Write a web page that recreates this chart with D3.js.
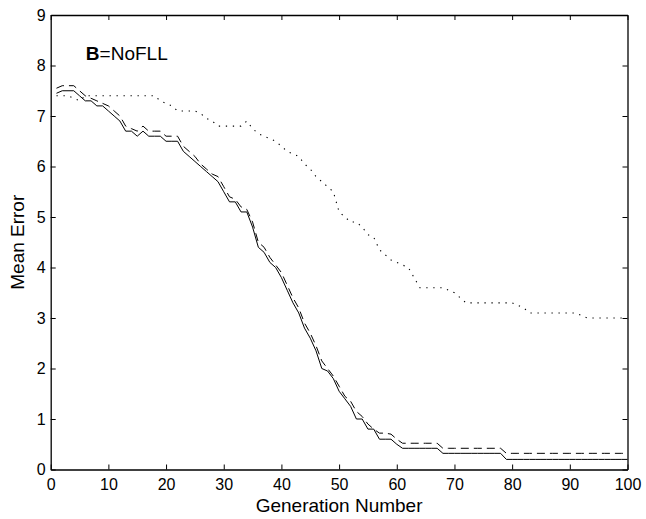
<!DOCTYPE html>
<html>
<head>
<meta charset="utf-8">
<script src="https://cdn.jsdelivr.net/npm/d3@7"></script>
<style>
  body { margin: 0; background: #fff; }
  svg { display: block; font-family: "Liberation Sans", Arial, Helvetica, sans-serif; }
</style>
</head>
<body>
<div id="wrapper"></div>
<script>
// generation 1..100
const generations = d3.range(1, 101);

const solidErr = [
  7.45, 7.5, 7.5, 7.5, 7.4, 7.3, 7.3, 7.2, 7.2, 7.1,
  7.0, 6.9, 6.7, 6.7, 6.6, 6.7, 6.6, 6.6, 6.6, 6.5,
  6.5, 6.5, 6.3, 6.2, 6.1, 6.0, 5.9, 5.8, 5.7, 5.5,
  5.3, 5.3, 5.1, 5.1, 4.8, 4.4, 4.3, 4.1, 4.0, 3.8,
  3.55, 3.3, 3.1, 2.8, 2.6, 2.35, 2.0, 1.95, 1.8, 1.55,
  1.4, 1.25, 1.0, 1.0, 0.8, 0.8, 0.6, 0.6, 0.6, 0.5,
  0.42, 0.42, 0.42, 0.42, 0.42, 0.42, 0.42, 0.32, 0.32, 0.32,
  0.32, 0.32, 0.32, 0.32, 0.32, 0.32, 0.32, 0.32, 0.2, 0.2,
  0.2, 0.2, 0.2, 0.2, 0.2, 0.2, 0.2, 0.2, 0.2, 0.2,
  0.2, 0.2, 0.2, 0.2, 0.2, 0.2, 0.2, 0.2, 0.2, 0.2
];

const dashedErr = [
  7.55, 7.6, 7.6, 7.6, 7.5, 7.4, 7.35, 7.3, 7.25, 7.2,
  7.1, 7.0, 6.8, 6.75, 6.7, 6.8, 6.7, 6.7, 6.7, 6.6,
  6.6, 6.6, 6.4, 6.3, 6.2, 6.05, 5.95, 5.85, 5.8, 5.6,
  5.4, 5.35, 5.2, 5.15, 4.9, 4.5, 4.4, 4.2, 4.05, 3.9,
  3.65, 3.4, 3.2, 2.9, 2.7, 2.45, 2.15, 2.0, 1.85, 1.65,
  1.45, 1.35, 1.15, 1.05, 0.9, 0.8, 0.72, 0.72, 0.7, 0.6,
  0.52, 0.52, 0.52, 0.52, 0.52, 0.52, 0.52, 0.42, 0.42, 0.42,
  0.42, 0.42, 0.42, 0.42, 0.42, 0.42, 0.42, 0.42, 0.32, 0.32,
  0.32, 0.32, 0.32, 0.32, 0.32, 0.32, 0.32, 0.32, 0.32, 0.32,
  0.32, 0.32, 0.32, 0.32, 0.32, 0.32, 0.32, 0.32, 0.32, 0.32
];

const dottedErr = [
  7.4, 7.4, 7.4, 7.35, 7.3, 7.4, 7.4, 7.4, 7.4, 7.4,
  7.4, 7.4, 7.4, 7.4, 7.4, 7.4, 7.4, 7.4, 7.3, 7.25,
  7.2, 7.1, 7.1, 7.1, 7.1, 7.05, 6.95, 6.9, 6.8, 6.8,
  6.8, 6.8, 6.8, 6.9, 6.75, 6.65, 6.6, 6.55, 6.5, 6.4,
  6.3, 6.25, 6.2, 6.05, 5.95, 5.8, 5.7, 5.6, 5.5, 5.1,
  5.0, 4.9, 4.9, 4.8, 4.65, 4.6, 4.35, 4.25, 4.15, 4.1,
  4.05, 4.0, 3.8, 3.6, 3.6, 3.6, 3.6, 3.6, 3.55, 3.5,
  3.4, 3.3, 3.3, 3.3, 3.3, 3.3, 3.3, 3.3, 3.3, 3.3,
  3.25, 3.2, 3.1, 3.1, 3.1, 3.1, 3.1, 3.1, 3.1, 3.1,
  3.1, 3.05, 3.0, 3.0, 3.0, 3.0, 3.0, 3.0, 3.0, 3.0
];

const xTicks = d3.range(0, 101, 10);
const yTicks = d3.range(0, 10, 1);

let dimensions = {
  width: 646,
  height: 519,
  margin: { top: 15, right: 18.5, bottom: 49.5, left: 50.7 },
};
dimensions.innerWidth = dimensions.width - dimensions.margin.left - dimensions.margin.right;
dimensions.innerHeight = dimensions.height - dimensions.margin.top - dimensions.margin.bottom;

const wrapper = d3.select('#wrapper')
  .append('svg')
  .attr('width', dimensions.width)
  .attr('height', dimensions.height);

const bounds = wrapper.append('g')
  .attr('transform', `translate(${dimensions.margin.left},${dimensions.margin.top})`);

const xScale = d3.scaleLinear().domain([0, 100]).range([0, dimensions.innerWidth]);
const yScale = d3.scaleLinear().domain([0, 9]).range([dimensions.innerHeight, 0]);

// series
const lineGen = (vals) => d3.line()
  .x((d, i) => xScale(generations[i]))
  .y((d) => yScale(d))(vals);

bounds.append('path')
  .attr('d', lineGen(dottedErr))
  .attr('fill', 'none')
  .attr('stroke', '#000')
  .attr('stroke-width', 1.1)
  .attr('stroke-dasharray', '1.3,5.7');

bounds.append('path')
  .attr('d', lineGen(dashedErr))
  .attr('fill', 'none')
  .attr('stroke', '#000')
  .attr('stroke-width', 1)
  .attr('stroke-dasharray', '8,5');

bounds.append('path')
  .attr('d', lineGen(solidErr))
  .attr('fill', 'none')
  .attr('stroke', '#000')
  .attr('stroke-width', 1);

// axes (box with inward ticks)
const styleAxis = (g) => {
  g.select('.domain').attr('stroke', '#000').attr('stroke-width', 1.3);
  g.selectAll('.tick line').attr('stroke', '#000').attr('stroke-width', 1);
  g.selectAll('.tick text').attr('fill', '#000').style('font-size', '16px')
    .style('font-family', '"Liberation Sans", Arial, sans-serif');
};

bounds.append('g')
  .attr('transform', `translate(0,${dimensions.innerHeight})`)
  .call(d3.axisBottom(xScale).tickValues(xTicks).tickSizeInner(-5).tickSizeOuter(0).tickPadding(9))
  .call(styleAxis);

bounds.append('g')
  .call(d3.axisTop(xScale).tickValues(xTicks).tickSizeInner(-5).tickSizeOuter(0).tickFormat(''))
  .call(styleAxis);

bounds.append('g')
  .call(d3.axisLeft(yScale).tickValues(yTicks).tickSizeInner(-5).tickSizeOuter(0).tickPadding(5))
  .call(styleAxis);

bounds.append('g')
  .attr('transform', `translate(${dimensions.innerWidth},0)`)
  .call(d3.axisRight(yScale).tickValues(yTicks).tickSizeInner(-5).tickSizeOuter(0).tickFormat(''))
  .call(styleAxis);

// labels
wrapper.append('text')
  .attr('x', dimensions.margin.left + dimensions.innerWidth / 2)
  .attr('y', 512)
  .attr('text-anchor', 'middle')
  .style('font-size', '19px')
  .text('Generation Number');

wrapper.append('text')
  .attr('transform', `translate(24,${dimensions.margin.top + dimensions.innerHeight / 2}) rotate(-90)`)
  .attr('text-anchor', 'middle')
  .style('font-size', '19px')
  .text('Mean Error');

const note = bounds.append('text')
  .attr('x', xScale(6.1))
  .attr('y', yScale(8.1))
  .style('font-size', '19px');
note.append('tspan').style('font-weight', 'bold').text('B');
note.append('tspan').text('=NoFLL');
</script>
</body>
</html>
